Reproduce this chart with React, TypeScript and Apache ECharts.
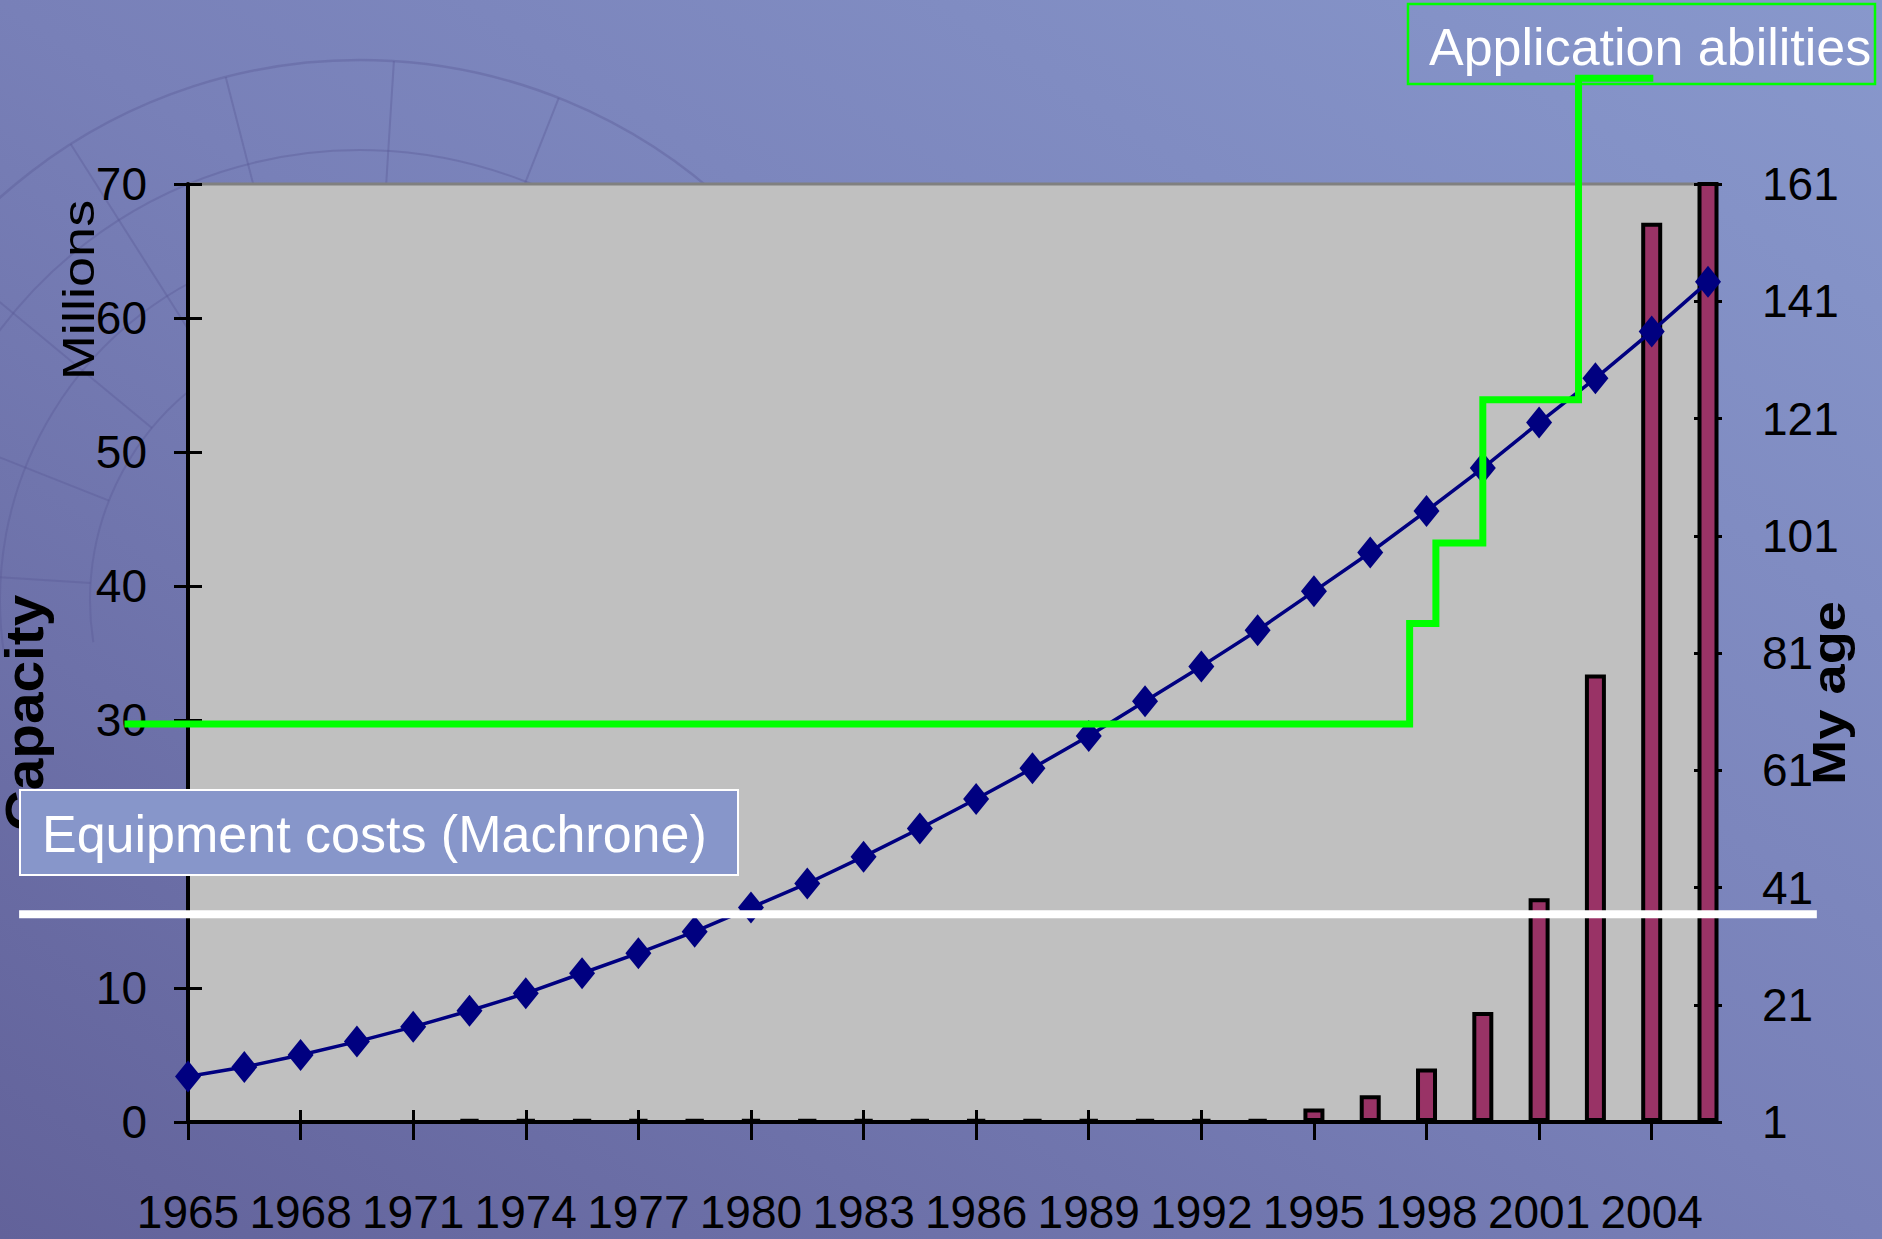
import React, { useEffect, useRef } from "react";
import * as echarts from "echarts";

// ---- data ----
const years = [
  "1965", "1966.5", "1968", "1969.5", "1971", "1972.5", "1974", "1975.5", "1977", "1978.5",
  "1980", "1981.5", "1983", "1984.5", "1986", "1987.5", "1989", "1990.5", "1992", "1993.5",
  "1995", "1996.5", "1998", "1999.5", "2001", "2002.5", "2004", "2005.5",
];
const capacityLine = [
  3.4, 4.1, 5.0, 6.0, 7.1, 8.3, 9.6, 11.1, 12.6, 14.2,
  16.0, 17.8, 19.8, 21.9, 24.1, 26.4, 28.8, 31.4, 34.0, 36.7,
  39.6, 42.5, 45.6, 48.8, 52.2, 55.5, 59.0, 62.7,
];
const capacityBars = [
  null, null, null, null, null, 0.2, 0.2, 0.2, 0.2, 0.2,
  0.2, 0.2, 0.2, 0.2, 0.2, 0.2, 0.2, 0.2, 0.2, 0.2,
  1.0, 2.0, 4.0, 8.2, 16.7, 33.4, 67.1, 134,
];
const leftAxisMin = 0;
const leftAxisMax = 70;
const leftAxisStep = 10;
const rightTickValues = [1, 21, 41, 61, 81, 101, 121, 141, 161];
const firstYear = 1965;
const lastYear = 2005.5;
// "Application abilities" step annotation (year, capacity level)
const abilityYears = [1963.4, 1997.55, 1998.25, 1999.5, 2002.05, 2003.95];
const abilityLevels = [29.7, 37.2, 43.2, 53.9, 77.9, 77.9];
// "Equipment costs (Machrone)" level line
const equipmentYears = [1960.5, 2008.4];
const equipmentLevels = [15.5, 15.5];

// ---- layout ----
const W = 1882;
const H = 1239;
const G_LEFT = 188;
const G_RIGHT = 174;
const G_TOP = 184;
const G_BOTTOM = 117;

const SANS = "'Liberation Sans', Arial, sans-serif";

export default function App() {
  const ref = useRef<HTMLDivElement>(null);

  useEffect(() => {
    if (!ref.current) return;
    const chart = echarts.init(ref.current, undefined, { renderer: "svg" });

    // overlay grid covering the whole canvas, with the same data->pixel mapping
    const pxPerYear = (W - G_LEFT - G_RIGHT) / (lastYear - firstYear);
    const pxPerUnit = (H - G_TOP - G_BOTTOM) / (leftAxisMax - leftAxisMin);
    const ovXMin = firstYear - G_LEFT / pxPerYear;
    const ovXMax = lastYear + G_RIGHT / pxPerYear;
    const ovYMin = leftAxisMin - G_BOTTOM / pxPerUnit;
    const ovYMax = leftAxisMax + G_TOP / pxPerUnit;

    const tickLabel = { color: "#000", fontSize: 46, fontFamily: SANS };
    const axisLineStyle = { color: "#000", width: 4 };
    const tickStyle = { color: "#000", width: 3 };

    const globeStroke = "rgba(90,90,150,0.38)";
    const deco: any[] = [];
    const radii = [540, 450, 360, 270];
    radii.forEach((r, i) =>
      deco.push({
        type: "arc",
        z: -10,
        silent: true,
        shape: { cx: 360, cy: 600, r, startAngle: Math.PI * 0.95, endAngle: Math.PI * 1.85, clockwise: true },
        style: { stroke: globeStroke, lineWidth: i === 0 ? 2.5 : 2, fill: "none" },
      })
    );
    const spokes = [1.02, 1.12, 1.22, 1.32, 1.42, 1.52, 1.62, 1.72, 1.82];
    spokes.forEach((a) =>
      deco.push({
        type: "line",
        z: -10,
        silent: true,
        shape: {
          x1: 360 + Math.cos(Math.PI * a) * 270,
          y1: 600 + Math.sin(Math.PI * a) * 270,
          x2: 360 + Math.cos(Math.PI * a) * 540,
          y2: 600 + Math.sin(Math.PI * a) * 540,
        },
        style: { stroke: globeStroke, lineWidth: 2 },
      })
    );

    chart.setOption({
      animation: false,
      textStyle: { fontFamily: SANS },
      grid: [
        {
          left: G_LEFT,
          right: G_RIGHT,
          top: G_TOP,
          bottom: G_BOTTOM,
          show: true,
          backgroundColor: "#C0C0C0",
          borderColor: "#808080",
          borderWidth: 3,
          containLabel: false,
        },
        { left: 0, right: 0, top: 0, bottom: 0, show: false, containLabel: false },
      ],
      xAxis: [
        {
          type: "category",
          gridIndex: 0,
          data: years,
          position: "bottom",
          boundaryGap: false,
          axisLine: { onZero: false, lineStyle: axisLineStyle },
          axisTick: { show: true, interval: 1, length: 18, lineStyle: tickStyle },
          axisLabel: {
            ...tickLabel,
            interval: 1,
            margin: 67,
            hideOverlap: false,
            showMinLabel: true,
          },
          splitLine: { show: false },
        },
        {
          type: "category",
          gridIndex: 0,
          data: years,
          position: "bottom",
          boundaryGap: false,
          axisLine: { show: false, onZero: false },
          axisTick: { show: true, inside: true, interval: 1, length: 12, lineStyle: tickStyle },
          axisLabel: { show: false },
          splitLine: { show: false },
        },
        {
          type: "value",
          gridIndex: 1,
          min: ovXMin,
          max: ovXMax,
          show: false,
        },
      ],
      yAxis: [
        {
          type: "value",
          gridIndex: 0,
          position: "left",
          min: leftAxisMin,
          max: leftAxisMax,
          interval: leftAxisStep,
          axisLine: { show: true, onZero: false, lineStyle: axisLineStyle },
          axisTick: { show: true, length: 14, lineStyle: tickStyle },
          axisLabel: { ...tickLabel, margin: 41 },
          splitLine: { show: false },
        },
        {
          type: "value",
          gridIndex: 0,
          position: "right",
          min: rightTickValues[0],
          max: rightTickValues[rightTickValues.length - 1],
          axisLine: { show: true, onZero: false, lineStyle: axisLineStyle },
          axisTick: { show: true, length: 14, lineStyle: tickStyle, customValues: rightTickValues },
          axisLabel: { ...tickLabel, margin: 54, customValues: rightTickValues },
          splitLine: { show: false },
        },
        {
          type: "value",
          gridIndex: 0,
          position: "left",
          min: leftAxisMin,
          max: leftAxisMax,
          interval: leftAxisStep,
          axisLine: { show: false, onZero: false },
          axisTick: { show: true, inside: true, length: 14, lineStyle: tickStyle },
          axisLabel: { show: false },
          splitLine: { show: false },
        },
        {
          type: "value",
          gridIndex: 0,
          position: "right",
          min: rightTickValues[0],
          max: rightTickValues[rightTickValues.length - 1],
          axisLine: { show: false, onZero: false },
          axisTick: { show: true, inside: true, length: 14, lineStyle: tickStyle, customValues: rightTickValues },
          axisLabel: { show: false, customValues: rightTickValues },
          splitLine: { show: false },
        },
        {
          type: "value",
          gridIndex: 1,
          min: ovYMin,
          max: ovYMax,
          show: false,
        },
      ],
      series: [
        {
          name: "Capacity bars",
          type: "bar",
          xAxisIndex: 0,
          yAxisIndex: 0,
          data: capacityBars,
          barWidth: 21,
          clip: true,
          itemStyle: { color: "#993366", borderColor: "#000", borderWidth: 4 },
          z: 2,
        },
        {
          name: "Capacity",
          type: "line",
          xAxisIndex: 0,
          yAxisIndex: 0,
          data: capacityLine,
          symbol: "diamond",
          symbolSize: [26, 32],
          itemStyle: { color: "#000080" },
          lineStyle: { color: "#000080", width: 3.5 },
          z: 3,
        },
        {
          name: "Equipment costs (Machrone)",
          type: "line",
          xAxisIndex: 2,
          yAxisIndex: 4,
          data: equipmentYears.map((y, i) => [y, equipmentLevels[i]]),
          symbol: "none",
          clip: false,
          lineStyle: { color: "#FFFFFF", width: 8 },
          z: 4,
        },
        {
          name: "Application abilities",
          type: "line",
          xAxisIndex: 2,
          yAxisIndex: 4,
          data: abilityYears.map((y, i) => [y, abilityLevels[i]]),
          step: "end",
          symbol: "none",
          clip: false,
          lineStyle: { color: "#00FF00", width: 7, cap: "square", join: "miter" },
          z: 5,
        },
      ],
      graphic: [
        {
          type: "rect",
          z: -20,
          silent: true,
          shape: { x: 0, y: 0, width: W, height: H },
          style: {
            fill: new echarts.graphic.LinearGradient(1, 0, 0, 1, [
              { offset: 0, color: "#8898CC" },
              { offset: 0.5, color: "#7880B8" },
              { offset: 1, color: "#62629A" },
            ]),
          },
        },
        ...deco,
        {
          type: "text",
          z: 6,
          x: 24,
          y: 713,
          rotation: Math.PI / 2,
          scaleX: 1.05,
          style: {
            text: "Capacity",
            fill: "#000",
            font: `bold 54px ${SANS}`,
            textAlign: "center",
            textVerticalAlign: "middle",
          },
        },
        {
          type: "text",
          z: 6,
          x: 78,
          y: 290,
          rotation: Math.PI / 2,
          scaleX: 1.23,
          style: {
            text: "Millions",
            fill: "#000",
            font: `44px ${SANS}`,
            textAlign: "center",
            textVerticalAlign: "middle",
          },
        },
        {
          type: "text",
          z: 6,
          x: 1829,
          y: 693,
          rotation: Math.PI / 2,
          scaleX: 1.18,
          style: {
            text: "My age",
            fill: "#000",
            font: `bold 46px ${SANS}`,
            textAlign: "center",
            textVerticalAlign: "middle",
          },
        },
        {
          type: "rect",
          z: 10,
          shape: { x: 20, y: 790, width: 718, height: 85 },
          style: { fill: "#8796CA", stroke: "#FFFFFF", lineWidth: 2 },
        },
        {
          type: "text",
          z: 11,
          x: 42,
          y: 834,
          style: {
            text: "Equipment costs (Machrone)",
            fill: "#FFFFFF",
            font: `52px ${SANS}`,
            textAlign: "left",
            textVerticalAlign: "middle",
          },
        },
        {
          type: "rect",
          z: 10,
          shape: { x: 1408, y: 4, width: 467, height: 80 },
          style: { fill: "none", stroke: "#00FF00", lineWidth: 2.5 },
        },
        {
          type: "text",
          z: 11,
          x: 1429,
          y: 47,
          style: {
            text: "Application abilities",
            fill: "#FFFFFF",
            font: `52px ${SANS}`,
            textAlign: "left",
            textVerticalAlign: "middle",
          },
        },
      ],
    });

    return () => chart.dispose();
  }, []);

  return (
    <div
      ref={ref}
      style={{ position: "absolute", left: 0, top: 0, width: W, height: H }}
    />
  );
}
